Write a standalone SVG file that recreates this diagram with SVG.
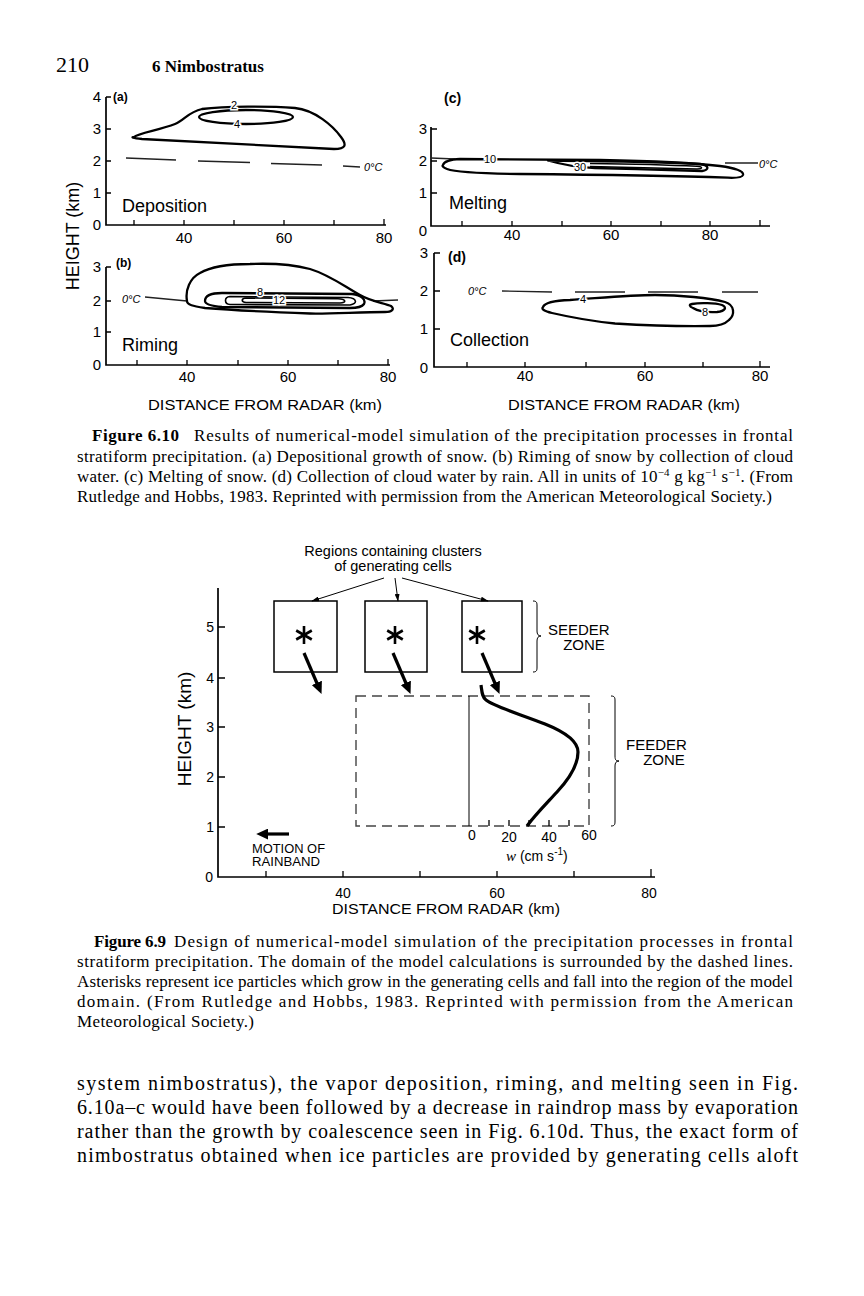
<svg xmlns="http://www.w3.org/2000/svg" width="864" height="1296" viewBox="0 0 864 1296">
<style>
.sans{font-family:"Liberation Sans",Arial,Helvetica,sans-serif;fill:#000}
.serif{font-family:"Liberation Serif","Times New Roman",serif;fill:#000}
.ax{stroke:#000;stroke-width:1.7;fill:none}
.tk{stroke:#000;stroke-width:1.3;fill:none}
.ct{stroke:#000;stroke-width:2.3;fill:none;stroke-linejoin:round}
.ctt{stroke:#000;stroke-width:1.6;fill:none}
.zero{stroke:#222;stroke-width:1.3;fill:none}
.num{font-size:15px}
.plab{font-size:12px;font-weight:bold}
.proc{font-size:18px}
.cl{font-size:11px;paint-order:stroke;stroke:#fff;stroke-width:3px}
.zc{font-size:11px;font-style:italic}
.cap{font-size:17px}
.body{font-size:20px}
.box{stroke:#000;stroke-width:1.5;fill:#fff}
.dbox{stroke:#444;stroke-width:1.4;fill:none;stroke-dasharray:10 6}
.thin{stroke:#000;stroke-width:1;fill:none}
.fat{stroke:#000;stroke-width:3.2;fill:none}
.brace{stroke:#000;stroke-width:1;fill:none}
</style>
<defs>
<marker id="ahThin" viewBox="0 0 10 10" refX="9" refY="5" markerWidth="8" markerHeight="5" orient="auto" markerUnits="userSpaceOnUse" preserveAspectRatio="none"><path d="M0,0 L10,5 L0,10 Z" fill="#000"/></marker>
<marker id="ahFat" viewBox="0 0 10 10" refX="1" refY="5" markerWidth="12" markerHeight="11" orient="auto" markerUnits="userSpaceOnUse" preserveAspectRatio="none"><path d="M0,0 L10,5 L0,10 Z" fill="#000"/></marker>
<g id="ast" stroke="#000" stroke-width="2.6" stroke-linecap="butt"><line x1="0" y1="-9" x2="0" y2="9"/><line x1="-7.8" y1="-4.5" x2="7.8" y2="4.5"/><line x1="-7.8" y1="4.5" x2="7.8" y2="-4.5"/></g>
</defs>
<rect width="864" height="1296" fill="#fff"/>

<g id="header">
<text class="serif" x="56" y="72" font-size="22">210</text>
<text class="serif" x="152" y="72" font-size="17" font-weight="bold">6   Nimbostratus</text>
</g>

<g id="fig610">
<text class="sans" transform="translate(79,236) rotate(-90)" font-size="18" text-anchor="middle">HEIGHT (km)</text>

<g id="panel-a">
<path class="ax" d="M106,97 V225 H386"/>
<path class="tk" d="M106,97 H111 M106,129 H111 M106,161 H111 M106,193 H111 M134,225 V220 M184,225 V220 M234,225 V220 M284,225 V220 M334,225 V220 M384,225 V219"/>
<g class="sans num" text-anchor="end"><text x="101" y="102">4</text><text x="101" y="134">3</text><text x="101" y="166">2</text><text x="101" y="198">1</text><text x="101" y="230">0</text></g>
<g class="sans num" text-anchor="middle"><text x="184" y="243">40</text><text x="284" y="243">60</text><text x="384" y="243">80</text></g>
<text class="sans plab" x="113" y="101">(a)</text>
<text class="sans proc" x="122" y="212">Deposition</text>
<path class="zero" d="M126,158 L176,160 M198,161 L250,162.5 M271,163.5 L322,165 M343,166 L360,167"/>
<text class="sans zc" x="364" y="171">0°C</text>
<path class="ct" d="M134,137 C138,133 160,130 175,124 C185,120 188,112 202,109 C225,106 270,106 295,108 C315,110 333,126 341,137 C347,145 346,149 334,149 L142,139 C132,138 131,137 134,137 Z"/>
<ellipse class="ct" cx="246" cy="117" rx="47" ry="7"/>
<text class="sans cl" x="234" y="109" text-anchor="middle">2</text>
<text class="sans cl" x="237" y="128" text-anchor="middle">4</text>
</g>

<g id="panel-b">
<path class="ax" d="M106,267 V365 H390"/>
<path class="tk" d="M106,267 H111 M106,301 H111 M106,332 H111 M137,365 V360 M187,365 V360 M238,365 V360 M288,365 V360 M338,365 V360 M388,365 V359"/>
<g class="sans num" text-anchor="end"><text x="101" y="272">3</text><text x="101" y="306">2</text><text x="101" y="337">1</text><text x="101" y="370">0</text></g>
<g class="sans num" text-anchor="middle"><text x="187" y="382">40</text><text x="288" y="382">60</text><text x="388" y="382">80</text></g>
<text class="sans plab" x="116" y="267">(b)</text>
<text class="sans proc" x="122" y="351">Riming</text>
<text class="sans zc" x="122" y="303">0°C</text>
<path class="zero" d="M145,297 L187,301 M373,301 L398,300"/>
<path class="ct" d="M187,301 C185,290 190,278 200,273 C212,266 230,264 250,264 C275,263 295,265 310,269 C330,275 345,287 360,295 C372,302 385,303 391,306 C395,309 392,312 385,312 C360,312 330,314 310,313.5 C270,312 230,310 205,308 C193,306 187,305 187,301 Z"/>
<path class="ct" d="M205,301 C205,295 212,293 222,293 L352,294 C362,295 366,300 364,304 C362,307 358,308 350,308 L222,307 C211,306 205,304 205,301 Z"/>
<path class="ctt" d="M230,296.5 L348,297.5 C357,298 358,304 350,305 L230,304.5 C224,304 224,297 230,296.5 Z"/>
<path class="ctt" d="M246,298 L338,298.8 C346,299 347,302.6 340,303 L246,302.5 C241,302 241,298.4 246,298 Z"/>
<text class="sans cl" x="260" y="296" text-anchor="middle">8</text>
<text class="sans cl" x="279" y="304" text-anchor="middle">12</text>
</g>

<g id="panel-c">
<path class="ax" d="M431,127 V226 H770"/>
<path class="tk" d="M431,129 H437 M431,161 H437 M431,193 H437 M462,226 V221 M512,226 V221 M562,226 V221 M611,226 V221 M661,226 V221 M710,226 V221 M760,226 V220"/>
<g class="sans num" text-anchor="end"><text x="427" y="134">3</text><text x="427" y="166">2</text><text x="427" y="198">1</text><text x="427" y="236">0</text></g>
<g class="sans num" text-anchor="middle"><text x="512" y="240">40</text><text x="611" y="240">60</text><text x="710" y="240">80</text></g>
<text class="sans" x="444" y="103" font-size="14" font-weight="bold">(c)</text>
<text class="sans proc" x="449" y="209">Melting</text>
<path class="zero" d="M431,158 L455,159 M725,163 L758,163"/>
<text class="sans zc" x="759" y="168">0°C</text>
<path class="ct" d="M443,165 C444,161 450,159.5 460,159 L600,160 C650,161 690,162.5 720,166 C735,168 744,171 743,175 C742,178 735,178 728,177.7 C680,176 580,174.5 520,174 C480,173.5 455,172 447,169 C443,167.5 442,166 443,165 Z"/>
<path class="ct" d="M548,160.5 C600,161 670,162 700,164 C709,165 710,170 702,171 C670,170 630,169 595,168 C580,167.5 560,164 548,160.5 Z"/>
<path class="ctt" d="M590,163.5 C630,164 670,165 697,166.3 C703,166.8 703,169 697,169 C670,168.5 630,167.5 590,166.5"/>
<text class="sans cl" x="490" y="163" text-anchor="middle" font-size="12">10</text>
<text class="sans cl" x="580" y="171" text-anchor="middle" font-size="14">30</text>
</g>

<g id="panel-d">
<path class="ax" d="M434,253 V367 H770"/>
<path class="tk" d="M434,253 H440 M434,291 H440 M434,329 H440 M467,367 V362 M525,367 V362 M586,367 V362 M645,367 V362 M703,367 V362 M760,367 V361"/>
<g class="sans num" text-anchor="end"><text x="428" y="258">3</text><text x="428" y="296">2</text><text x="428" y="334">1</text><text x="428" y="373">0</text></g>
<g class="sans num" text-anchor="middle"><text x="525" y="381">40</text><text x="645" y="381">60</text><text x="760" y="381">80</text></g>
<text class="sans" x="448" y="262" font-size="14" font-weight="bold">(d)</text>
<text class="sans proc" x="450" y="346">Collection</text>
<text class="sans zc" x="468" y="295">0°C</text>
<path class="zero" d="M502,291 L552,292 M575,292 L625,292 M648,292 L698,292 M722,292 L758,292"/>
<path class="ct" d="M543,307 C545,302 555,300.5 570,300 C600,298 630,295 655,295 C680,295 710,298 725,302 C735,305 735,315 729,320 C725,324 720,326 710,326 C680,326.5 640,325 615,323.5 C590,321 565,316 552,313 C544,311 541,309 543,307 Z"/>
<path class="ct" d="M692,304 C700,302.5 715,303 722,305 C727,307 726,311 717,312 C708,312.5 698,311 693,308 C689,306.5 689,304.5 692,304 Z"/>
<text class="sans cl" x="583" y="303" text-anchor="middle" font-size="12">4</text>
<text class="sans cl" x="705" y="316" text-anchor="middle" font-size="12">8</text>
</g>

<g class="sans" font-size="15">
<text x="265" y="410" text-anchor="middle" textLength="234" lengthAdjust="spacingAndGlyphs">DISTANCE FROM RADAR (km)</text>
<text x="624" y="410" text-anchor="middle" textLength="232" lengthAdjust="spacingAndGlyphs">DISTANCE FROM RADAR (km)</text>
</g>
</g>

<g id="caption610" class="serif cap">
<text x="92" y="441" font-weight="bold" textLength="87" lengthAdjust="spacing">Figure 6.10</text>
<text x="194" y="441" textLength="599" lengthAdjust="spacing">Results of numerical-model simulation of the precipitation processes in frontal</text>
<text x="77" y="462" textLength="716" lengthAdjust="spacing">stratiform precipitation. (a) Depositional growth of snow. (b) Riming of snow by collection of cloud</text>
<text x="77" y="482" textLength="716" lengthAdjust="spacing">water. (c) Melting of snow. (d) Collection of cloud water by rain. All in units of 10<tspan font-size="11" dy="-6">−4</tspan><tspan dy="6"> g kg</tspan><tspan font-size="11" dy="-6">−1</tspan><tspan dy="6"> s</tspan><tspan font-size="11" dy="-6">−1</tspan><tspan dy="6">. (From</tspan></text>
<text x="77" y="502" textLength="695" lengthAdjust="spacing">Rutledge and Hobbs, 1983. Reprinted with permission from the American Meteorological Society.)</text>
</g>

<g id="fig69">
<g id="title69" class="sans" font-size="14.5" text-anchor="middle">
<text x="393" y="556">Regions containing clusters</text>
<text x="393" y="571">of generating cells</text>
</g>
<g id="axes69">
<path class="ax" d="M218,588 V877 H655"/>
<path class="tk" d="M218,627 H225 M218,678 H225 M218,727 H225 M218,777 H225 M218,827 H225 M266,877 V871 M343,877 V871 M420,877 V871 M497,877 V871 M574,877 V871 M651,877 V869"/>
<g class="sans" font-size="14" text-anchor="end"><text x="214" y="632">5</text><text x="214" y="683">4</text><text x="214" y="732">3</text><text x="214" y="782">2</text><text x="214" y="832">1</text><text x="213" y="882">0</text></g>
<g class="sans" font-size="14" text-anchor="middle"><text x="343" y="898">40</text><text x="497" y="898">60</text><text x="649" y="898">80</text></g>
<text class="sans" x="446" y="914" font-size="15" text-anchor="middle" textLength="228" lengthAdjust="spacingAndGlyphs">DISTANCE FROM RADAR (km)</text>
<text class="sans" transform="translate(191,729) rotate(-90)" font-size="19" text-anchor="middle">HEIGHT (km)</text>
</g>
<g id="cell1"><rect class="box" x="274" y="601" width="63" height="71"/><use href="#ast" x="304" y="635"/></g>
<g id="cell2"><rect class="box" x="365" y="601" width="62" height="71"/><use href="#ast" x="395" y="635"/></g>
<g id="cell3"><rect class="box" x="462" y="601" width="60" height="71"/><use href="#ast" x="477" y="635"/></g>
<g id="seeder">
<path class="brace" d="M533,601 C537,601 537,603 537,606 L537,631 C537,634 538,636 541,636 C538,636 537,638 537,641 L537,667 C537,670 537,672 533,672"/>
<g class="sans" font-size="15"><text x="548" y="635">SEEDER</text><text x="584" y="650" text-anchor="middle">ZONE</text></g>
</g>
<g id="domain">
<rect class="dbox" x="356" y="696" width="233" height="130"/>
<path class="tk" d="M489,826 V820 M509,826 V820 M529,826 V820 M549,826 V820 M569,826 V820"/>
</g>
<g id="wprofile">
<line class="thin" x1="469" y1="696" x2="469" y2="826" stroke-width="1.3"/>
<path class="fat" d="M481,685 C482,692 482,697 486,700 C495,707 520,714 545,724 C565,732 578,742 578,752 C578,764 570,778 557,792 C547,803 535,815 527,826"/>
<g class="sans" font-size="14" text-anchor="middle"><text x="472" y="840">0</text><text x="509" y="842">20</text><text x="549" y="842">40</text><text x="589" y="840">60</text></g>
<text x="506" y="861" font-size="14"><tspan class="serif" font-style="italic" font-size="15">w</tspan><tspan class="sans"> (cm s</tspan><tspan class="sans" font-size="10" dy="-6">-1</tspan><tspan class="sans" dy="6">)</tspan></text>
</g>
<g id="feeder">
<path class="brace" d="M611,696 C615,696 615,698 615,701 L615,756 C615,760 616,761 619,761 C616,761 615,763 615,766 L615,821 C615,824 615,826 611,826"/>
<g class="sans" font-size="15"><text x="626" y="750">FEEDER</text><text x="664" y="765" text-anchor="middle">ZONE</text></g>
</g>
<g id="motion">
<line class="fat" x1="289" y1="834" x2="267" y2="834" stroke-width="4.5" marker-end="url(#ahFat)"/>
<g class="sans" font-size="12.5"><text x="252" y="853" textLength="73" lengthAdjust="spacingAndGlyphs">MOTION OF</text><text x="252" y="866" textLength="68" lengthAdjust="spacingAndGlyphs">RAINBAND</text></g>
</g>
<g id="connectors">
<line class="thin" x1="384" y1="578" x2="312" y2="601" marker-end="url(#ahThin)"/>
<line class="thin" x1="395" y1="578" x2="398" y2="601" marker-end="url(#ahThin)"/>
<line class="thin" x1="402" y1="578" x2="488" y2="601" marker-end="url(#ahThin)"/>
<line class="fat" x1="304" y1="653" x2="317.3" y2="684" marker-end="url(#ahFat)"/>
<line class="fat" x1="393" y1="653" x2="406.3" y2="684" marker-end="url(#ahFat)"/>
<line class="fat" x1="482" y1="653" x2="495.3" y2="684" marker-end="url(#ahFat)"/>
</g>
</g>

<g id="caption69" class="serif cap">
<text x="94" y="947" font-weight="bold" textLength="72" lengthAdjust="spacing">Figure 6.9</text>
<text x="174" y="947" textLength="619" lengthAdjust="spacing">Design of numerical-model simulation of the precipitation processes in frontal</text>
<text x="77" y="967" textLength="716" lengthAdjust="spacing">stratiform precipitation. The domain of the model calculations is surrounded by the dashed lines.</text>
<text x="77" y="987" textLength="716" lengthAdjust="spacing">Asterisks represent ice particles which grow in the generating cells and fall into the region of the model</text>
<text x="77" y="1007" textLength="716" lengthAdjust="spacing">domain. (From Rutledge and Hobbs, 1983. Reprinted with permission from the American</text>
<text x="77" y="1027" textLength="177" lengthAdjust="spacing">Meteorological Society.)</text>
</g>

<g id="body" class="serif body">
<text x="77" y="1090" textLength="721" lengthAdjust="spacing">system nimbostratus), the vapor deposition, riming, and melting seen in Fig.</text>
<text x="77" y="1114" textLength="721" lengthAdjust="spacing">6.10a–c would have been followed by a decrease in raindrop mass by evaporation</text>
<text x="77" y="1138" textLength="721" lengthAdjust="spacing">rather than the growth by coalescence seen in Fig. 6.10d. Thus, the exact form of</text>
<text x="77" y="1162" textLength="721" lengthAdjust="spacing">nimbostratus obtained when ice particles are provided by generating cells aloft</text>
</g>
</svg>
